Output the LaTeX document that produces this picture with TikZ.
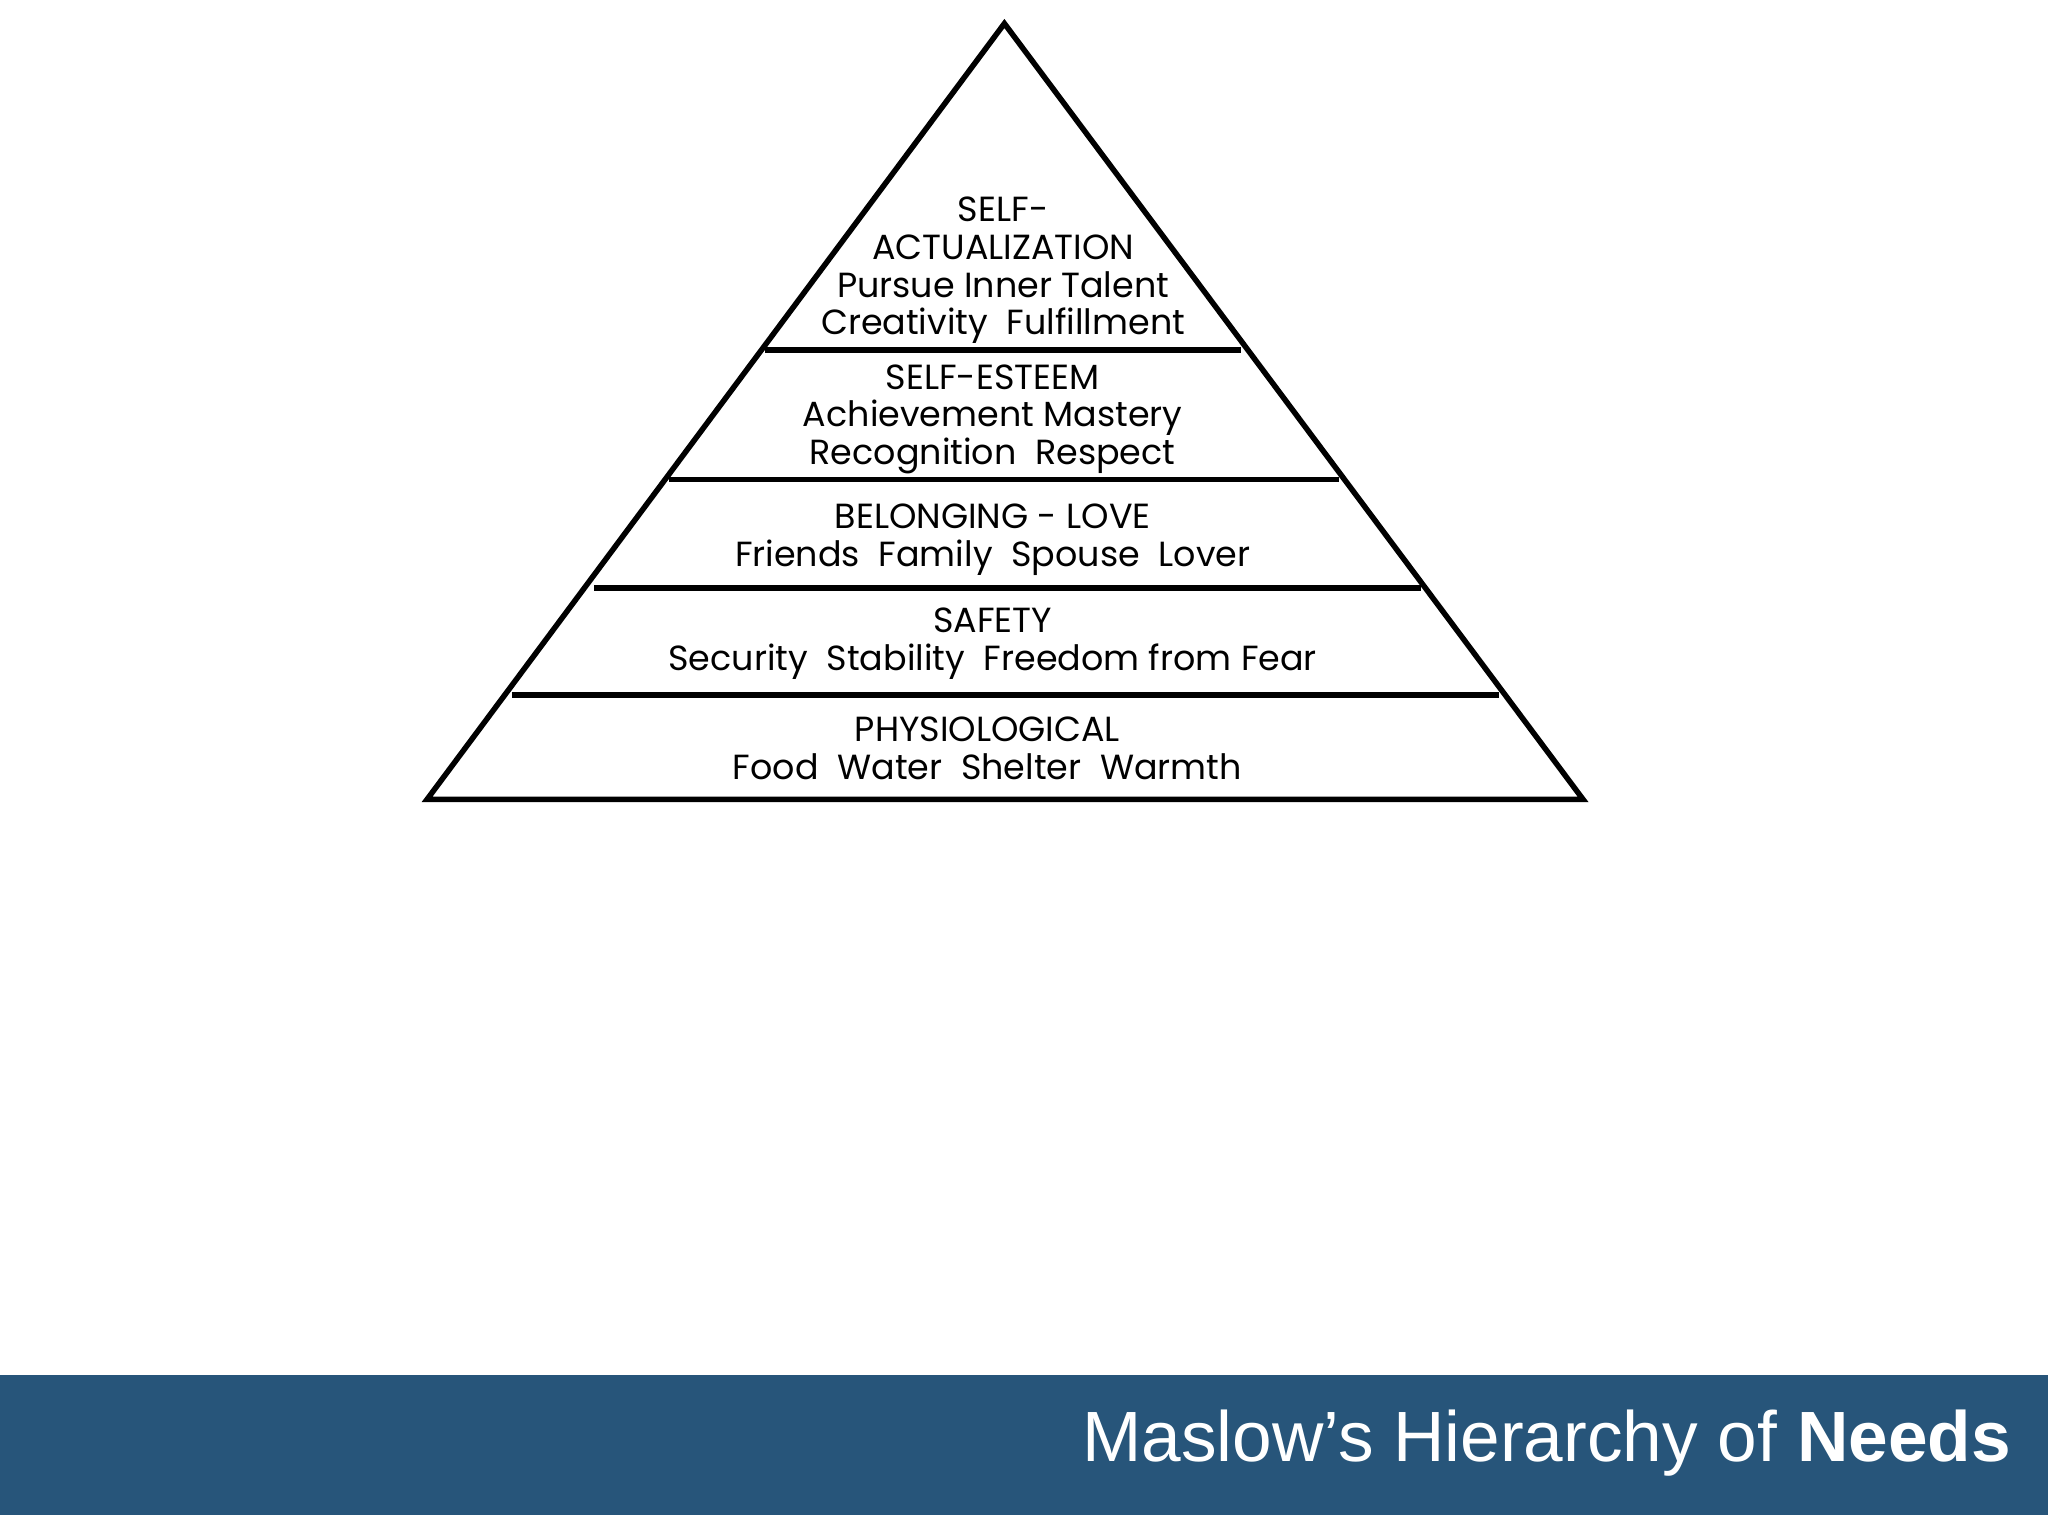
\documentclass[tikz,border=0pt]{standalone}
\usepackage{fontspec}
\setmainfont{Liberation Sans}
\newfontfamily\pyr{Poppins}
\definecolor{barblue}{HTML}{27557A}
\begin{document}
\begin{tikzpicture}[x=0.01cm,y=-0.01cm,
  lvl/.style={line width=1.2pt},
  lab/.style={font=\pyr\fontsize{7.6}{8.2}\selectfont, align=center}]
\useasboundingbox (0,0) rectangle (1568,1176);
\fill[white] (0,0) rectangle (1568,1176);
\fill[barblue] (0,1053) rectangle (1568,1160);
\node[anchor=east, text=white, font=\fontsize{15.5}{18}\selectfont] (title) at (1552,1105) {Maslow’s Hierarchy of \textbf{Needs}};
\coordinate (apex) at (769,18);
\coordinate (bl) at (327,612);
\coordinate (br) at (1212,612);
\draw[lvl, line join=miter] (bl) -- (apex) -- (br) -- cycle;
\draw[lvl] (586,268) -- (950,268);
\draw[lvl] (512,367) -- (1025,367);
\draw[lvl] (455,450) -- (1088,450);
\draw[lvl] (392,532) -- (1148,532);
\node[lab] (sa) at (768,207) {SELF-\\ACTUALIZATION\\Pursue Inner Talent\\Creativity\ \ Fulfillment};
\node[lab] (se) at (760,321) {SELF-ESTEEM\\Achievement Mastery\\Recognition\ \ Respect};
\node[lab] (bel) at (760,413) {BELONGING - LOVE\\Friends\ \ Family\ \ Spouse\ \ Lover};
\node[lab] (saf) at (760,493) {SAFETY\\Security\ \ Stability\ \ Freedom from Fear};
\node[lab] (phy) at (756,573) {PHYSIOLOGICAL\\Food\ \ Water\ \ Shelter\ \ Warmth};
\end{tikzpicture}
\end{document}
